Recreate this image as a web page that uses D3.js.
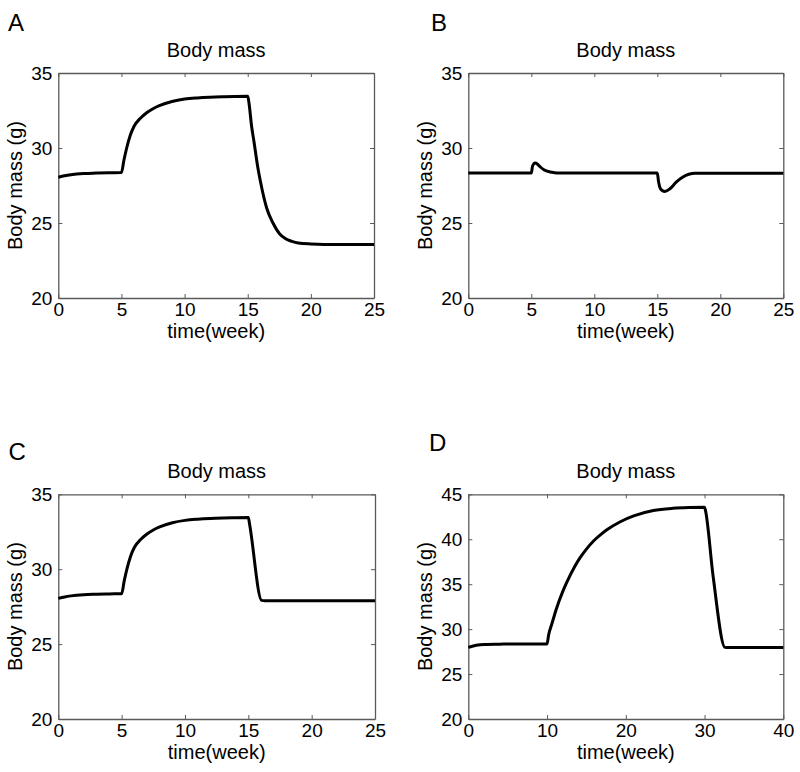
<!DOCTYPE html>
<html>
<head>
<meta charset="utf-8">
<script src="https://cdn.jsdelivr.net/npm/d3@7"></script>
<style>
  html, body { margin: 0; padding: 0; background: #fff; }
  svg { display: block; }
  text { font-family: Arial, "Liberation Sans", sans-serif; fill: #000; }
</style>
</head>
<body>
<svg id="chart" width="800" height="772"></svg>
<script>
// ---- Data ----
const panelLetters = ["A", "B", "C", "D"];
const titleText = "Body mass";
const xLabelText = "time(week)";
const yLabelText = "Body mass (g)";

const timeA = [0, 0.5, 1, 2, 3, 4, 5, 5.2, 5.4, 5.7, 6, 6.5, 7, 7.5, 8, 9, 10, 11, 12, 13, 14, 15, 15.1, 15.3, 15.5, 15.8, 16, 16.5, 17, 17.5, 18, 18.5, 19, 20, 21, 25];
const massA = [28.05, 28.15, 28.22, 28.3, 28.33, 28.35, 28.36, 29.2, 29.95, 30.85, 31.45, 31.98, 32.35, 32.62, 32.82, 33.1, 33.26, 33.34, 33.39, 33.42, 33.44, 33.45, 33.0, 31.5, 30.4, 28.7, 27.8, 26.0, 25.0, 24.3, 23.95, 23.78, 23.67, 23.6, 23.57, 23.57];

const timeB = [0, 5, 5.1, 5.3, 5.5, 5.7, 6, 6.5, 7, 7.5, 15, 15.1, 15.3, 15.6, 16, 16.5, 17, 17.5, 18, 25];
const massB = [28.34, 28.33, 28.8, 29.0, 28.92, 28.75, 28.55, 28.4, 28.34, 28.33, 28.33, 27.75, 27.22, 27.1, 27.28, 27.72, 28.05, 28.25, 28.31, 28.32];

const timeC = [0, 0.5, 1, 2, 3, 4, 5, 5.2, 5.4, 5.7, 6, 6.5, 7, 7.5, 8, 9, 10, 11, 12, 13, 14, 15, 15.1, 16.05, 16.3, 25];
const massC = [28.05, 28.15, 28.22, 28.3, 28.33, 28.35, 28.36, 29.2, 29.95, 30.85, 31.45, 31.98, 32.35, 32.62, 32.82, 33.1, 33.26, 33.34, 33.39, 33.42, 33.44, 33.45, 33.0, 27.92, 27.9, 27.9];

const timeD = [0, 0.5, 1, 2, 4, 6, 8, 10, 10.2, 10.6, 11.2, 12, 12.5, 13.5, 14.2, 15, 15.9, 17, 17.6, 19.3, 21, 23.5, 26, 28, 30, 30.1, 31.1, 32.6, 33, 40];
const massD = [27.97, 28.1, 28.2, 28.3, 28.33, 28.35, 28.35, 28.35, 29.35, 30.55, 32.3, 34.2, 35.2, 36.95, 37.95, 38.9, 39.8, 40.65, 41.05, 41.95, 42.6, 43.2, 43.44, 43.52, 43.55, 43.26, 35.8, 27.97, 27.95, 27.95];

const xTicksShort = [0, 5, 10, 15, 20, 25];
const xTicksLong = [0, 10, 20, 30, 40];
const yTicksShort = [20, 25, 30, 35];
const yTicksLong = [20, 25, 30, 35, 40, 45];

// ---- Layout ----
const panels = [
  { letter: panelLetters[0], t: timeA, m: massA, xDom: [0, 25], yDom: [20, 35], xt: xTicksShort, yt: yTicksShort,
    box: [58.3, 374, 73, 298], letterPos: [8, 30.7] },
  { letter: panelLetters[1], t: timeB, m: massB, xDom: [0, 25], yDom: [20, 35], xt: xTicksShort, yt: yTicksShort,
    box: [468.3, 783.3, 73, 298], letterPos: [431, 30.5] },
  { letter: panelLetters[2], t: timeC, m: massC, xDom: [0, 25], yDom: [20, 35], xt: xTicksShort, yt: yTicksShort,
    box: [58.3, 375, 494.3, 719], letterPos: [8.5, 460] },
  { letter: panelLetters[3], t: timeD, m: massD, xDom: [0, 40], yDom: [20, 45], xt: xTicksLong, yt: yTicksLong,
    box: [468.3, 783.3, 494.3, 719], letterPos: [429, 450.7] }
];

const svg = d3.select("#chart");
const axisColor = "#5a5a5a";
const tickLen = 4;

panels.forEach(p => {
  const [x0, x1, y0, y1] = p.box;
  const x = d3.scaleLinear().domain(p.xDom).range([x0, x1]);
  const y = d3.scaleLinear().domain(p.yDom).range([y1, y0]);
  const g = svg.append("g");

  g.append("text").attr("x", p.letterPos[0]).attr("y", p.letterPos[1])
    .attr("font-size", 24).text(p.letter);

  g.append("text").attr("x", (x0 + x1) / 2).attr("y", y0 - 16)
    .attr("text-anchor", "middle").attr("font-size", 20).text(titleText);

  const bottom = g.append("g").attr("transform", `translate(0,${y1})`)
    .call(d3.axisBottom(x).tickValues(p.xt).tickFormat(d3.format("d"))
      .tickSizeInner(-tickLen).tickSizeOuter(0).tickPadding(5));
  const top = g.append("g").attr("transform", `translate(0,${y0})`)
    .call(d3.axisTop(x).tickValues(p.xt).tickFormat("")
      .tickSizeInner(-tickLen).tickSizeOuter(0));
  const left = g.append("g").attr("transform", `translate(${x0},0)`)
    .call(d3.axisLeft(y).tickValues(p.yt).tickFormat(d3.format("d"))
      .tickSizeInner(-tickLen).tickSizeOuter(0).tickPadding(6));
  const right = g.append("g").attr("transform", `translate(${x1},0)`)
    .call(d3.axisRight(y).tickValues(p.yt).tickFormat("")
      .tickSizeInner(-tickLen).tickSizeOuter(0));

  [bottom, top, left, right].forEach(a => {
    a.attr("font-family", null).attr("font-size", null);
    a.select(".domain").attr("stroke", axisColor).attr("stroke-width", 1.3);
    a.selectAll(".tick line").attr("stroke", axisColor).attr("stroke-width", 1);
    a.selectAll(".tick text").attr("font-size", 19).attr("fill", "#000");
  });

  g.append("text").attr("x", (x0 + x1) / 2).attr("y", y1 + 40)
    .attr("text-anchor", "middle").attr("font-size", 20).text(xLabelText);

  g.append("text")
    .attr("transform", `translate(${x0 - 36},${(y0 + y1) / 2}) rotate(-90)`)
    .attr("text-anchor", "middle").attr("font-size", 20).text(yLabelText);

  const pts = p.t.map((tv, i) => [tv, p.m[i]]);
  const line = d3.line().x(d => x(d[0])).y(d => y(d[1])).curve(d3.curveMonotoneX);
  g.append("path").datum(pts).attr("d", line)
    .attr("fill", "none").attr("stroke", "#000").attr("stroke-width", 3)
    .attr("stroke-linejoin", "round");
});
</script>
</body>
</html>
